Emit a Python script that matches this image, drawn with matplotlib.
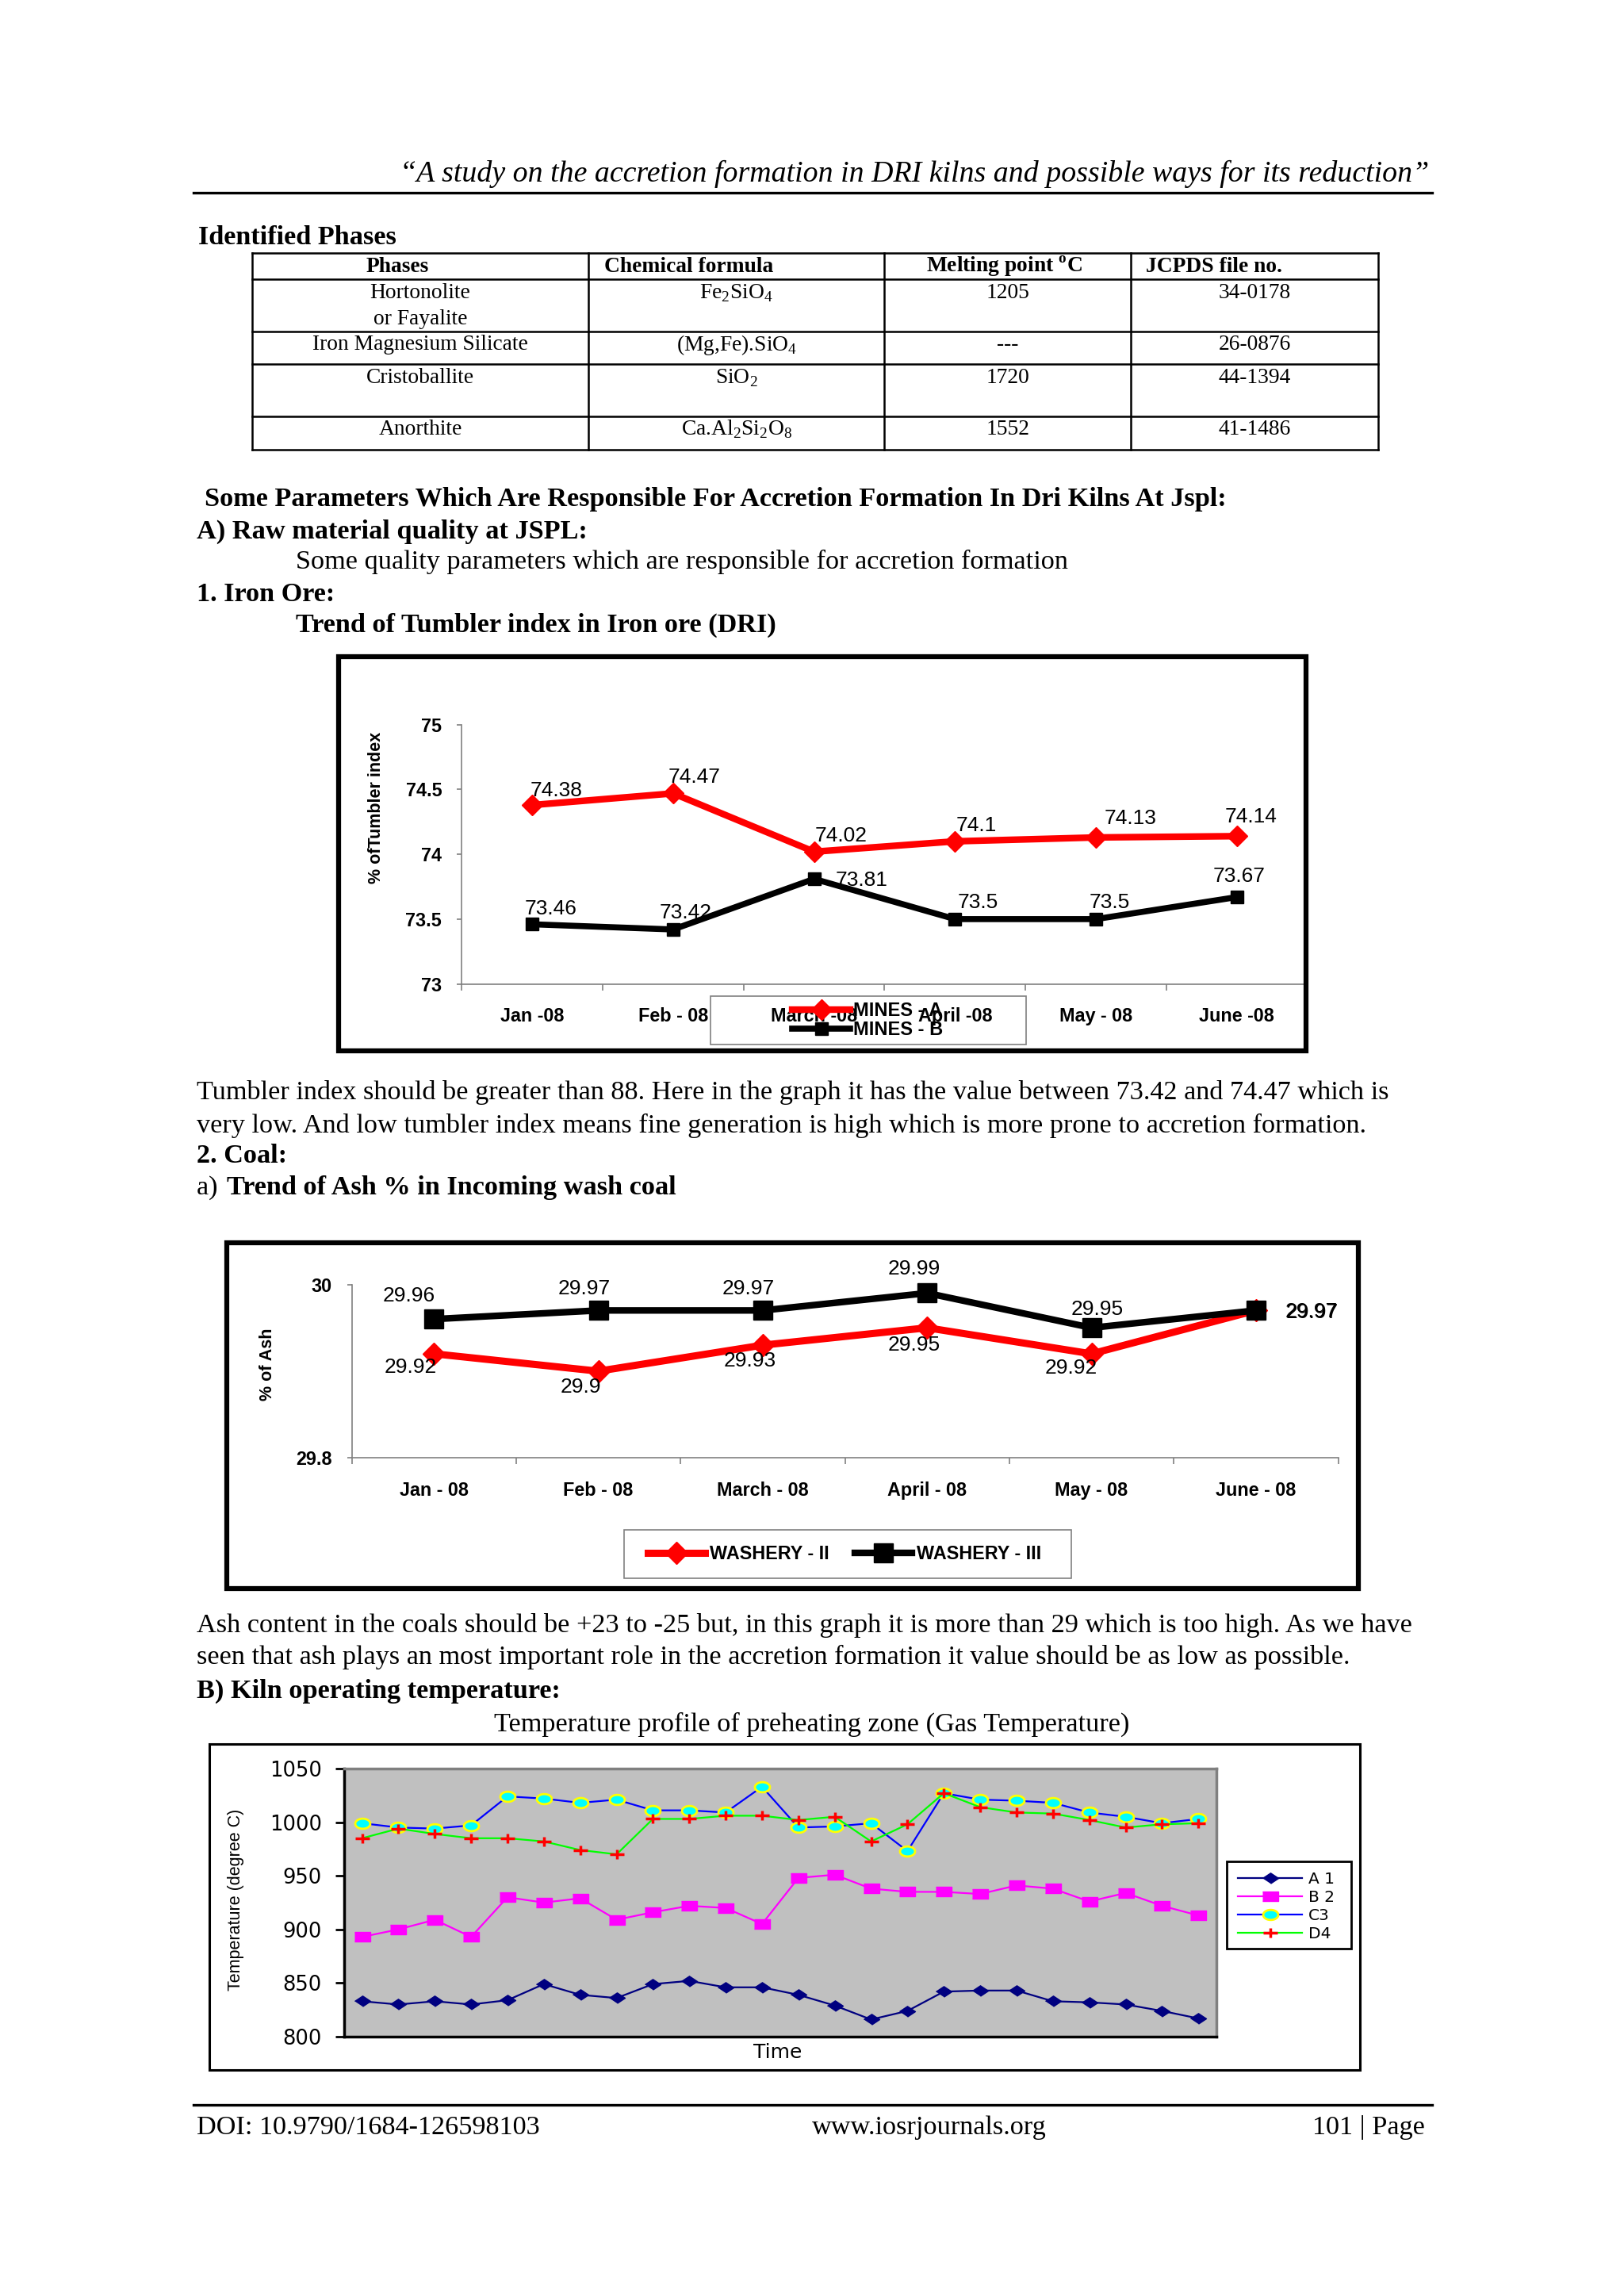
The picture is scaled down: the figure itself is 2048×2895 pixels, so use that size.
import numpy as np
import matplotlib
matplotlib.use("Agg")
import matplotlib.pyplot as plt
from matplotlib.patches import Rectangle
from matplotlib.lines import Line2D
from matplotlib.path import Path

# ---- data ----
table_phases = ["Hortonolite\nor Fayalite", "Iron Magnesium Silicate", "Cristoballite", "Anorthite"]
table_formula = [r"Fe$_\mathregular{2}$SiO$_\mathregular{4}$", r"(Mg,Fe).SiO$_\mathregular{4}$",
                 r"SiO$_\mathregular{2}$", r"Ca.Al$_\mathregular{2}$Si$_\mathregular{2}$O$_\mathregular{8}$"]
table_melting = ["1205", "---", "1720", "1552"]
table_jcpds = ["34-0178", "26-0876", "44-1394", "41-1486"]

months_ore = ["Jan -08", "Feb - 08", "March -08", "April -08", "May - 08", "June -08"]
mines_a = [74.38, 74.47, 74.02, 74.1, 74.13, 74.14]
mines_b = [73.46, 73.42, 73.81, 73.5, 73.5, 73.67]

months_coal = ["Jan - 08", "Feb - 08", "March - 08", "April - 08", "May - 08", "June - 08"]
washery_2 = [29.92, 29.9, 29.93, 29.95, 29.92, 29.97]
washery_3 = [29.96, 29.97, 29.97, 29.99, 29.95, 29.97]

temp_a1 = [833, 830, 833, 830, 834, 849, 839, 836, 849, 852, 846, 846,
           839, 829, 816, 824, 842, 843, 843, 833, 832, 830, 824, 817]
temp_b2 = [893, 900, 909, 893, 930, 925, 929, 909, 916, 922, 920, 905,
           948, 951, 938, 935, 935, 933, 941, 938, 926, 934, 922, 913]
temp_c3 = [999, 995, 994, 997, 1024, 1022, 1018, 1021, 1011, 1011, 1009, 1033,
           995, 996, 999, 973, 1027, 1021, 1020, 1018, 1009, 1005, 999, 1003]
temp_d4 = [985, 994, 989, 985, 985, 982, 974, 970, 1003, 1003, 1006, 1006,
           1002, 1005, 982, 998, 1027, 1014, 1009, 1008, 1002, 995, 998, 999]

# ---- page helpers (positions measured on a 1108 x 1567 grid) ----
PW, PH = 1108.0, 1567.0
SERIF = "Liberation Serif"
SANS = "Liberation Sans"
WIDE = "DejaVu Sans"
BODY = 24.7

plt.rcParams["mathtext.fontset"] = "custom"
plt.rcParams["mathtext.rm"] = SERIF

fig = plt.figure(figsize=(20.48, 28.95), dpi=100)


def fx(x):
    return x / PW


def fy(y):
    return 1 - y / PH


def box(x0, y0, x1, y1):
    return [fx(x0), fy(y1), (x1 - x0) / PW, (y1 - y0) / PH]


def page_text(x, y, s, size=BODY, weight="normal", style="normal", ha="left", family=SERIF):
    fig.text(fx(x), fy(y), s, fontsize=size, fontweight=weight, fontstyle=style,
             ha=ha, va="center", family=family)


def hline(x0, x1, y, lw=1.8, color="black"):
    fig.add_artist(Line2D([fx(x0), fx(x1)], [fy(y), fy(y)], transform=fig.transFigure, lw=lw, color=color))


def vline(x, y0, y1, lw=1.8, color="black"):
    fig.add_artist(Line2D([fx(x), fx(x)], [fy(y0), fy(y1)], transform=fig.transFigure, lw=lw, color=color))


def frame(x0, y0, x1, y1, lw, color="black"):
    fig.add_artist(Rectangle((fx(x0), fy(y1)), (x1 - x0) / PW, (y1 - y0) / PH, transform=fig.transFigure,
                             fill=False, ec=color, lw=lw))


# ---- header / footer ----
page_text(975, 119, "\u201cA study on the accretion formation in DRI kilns and possible ways for its reduction\u201d",
          size=27.3, style="italic", ha="right")
hline(132, 977, 131.7, lw=2.4)
hline(132, 977, 1436.7, lw=2.4)
page_text(134, 1452, "DOI: 10.9790/1684-126598103")
page_text(634, 1452, "www.iosrjournals.org", ha="center")
page_text(972, 1452, "101 | Page", ha="right")

# ---- table ----
page_text(135, 162, "Identified Phases", weight="bold")
cols = [172, 401.5, 603.5, 771.6, 940.5]
rows = [172.6, 190.5, 226, 248.4, 284, 306.7]
for c in cols:
    vline(c, rows[0], rows[-1])
for r in rows:
    hline(cols[0], cols[-1], r)
TS = 19.8
page_text(271, 182, "Phases", size=TS, weight="bold", ha="center")
page_text(412, 182, "Chemical formula", size=TS, weight="bold")
page_text(685, 182, r"Melting point $^\mathregular{o}$C", size=TS, weight="bold", ha="center")
page_text(782, 182, "JCPDS file no.", size=TS, weight="bold")
row_y = [200, 235.4, 258, 293]
for i in range(len(table_phases)):
    y = row_y[i]
    if "\n" in table_phases[i]:
        a, b = table_phases[i].split("\n")
        page_text(286.7, y, a, size=TS, ha="center")
        page_text(286.7, y + 18, b, size=TS, ha="center")
    else:
        page_text(286.7, y, table_phases[i], size=TS, ha="center")
    page_text(502.5, y, table_formula[i], size=TS, ha="center")
    page_text(687.5, y, table_melting[i], size=TS, ha="center")
    page_text(856, y, table_jcpds[i], size=TS, ha="center")

# ---- body text ----
page_text(139.6, 341, "Some Parameters Which Are Responsible For Accretion Formation In Dri Kilns At Jspl:", weight="bold")
page_text(134, 362.6, "A) Raw material quality at JSPL:", weight="bold")
page_text(201.6, 383.3, "Some quality parameters which are responsible for accretion formation")
page_text(134, 405.8, "1. Iron Ore:", weight="bold")
page_text(201.6, 426.6, "Trend of Tumbler index in Iron ore (DRI)", weight="bold")
page_text(134, 745.8, "Tumbler index should be greater than 88. Here in the graph it has the value between 73.42 and 74.47 which is")
page_text(134, 768.4, "very low. And low tumbler index means fine generation is high which is more prone to accretion formation.")
page_text(134, 789, "2. Coal:", weight="bold")
page_text(134, 810.6, "a) ")
page_text(155, 810.6, "Trend of Ash % in Incoming wash coal", weight="bold")
page_text(134, 1109.3, "Ash content in the coals should be +23 to -25 but, in this graph it is more than 29 which is too high. As we have")
page_text(134, 1131, "seen that ash plays an most important role in the accretion formation it value should be as low as possible.")
page_text(134, 1154.4, "B) Kiln operating temperature:", weight="bold")
page_text(554, 1177, "Temperature profile of preheating zone (Gas Temperature)", ha="center")


# ---- excel style category charts ----
def excel_axes(ax, labels, ylo, yhi, yticks, size=16.8, pad=20):
    ax.set_xlim(-0.5, len(labels) - 0.5)
    ax.set_ylim(ylo, yhi)
    ax.set_xticks(range(len(labels)))
    ax.set_xticklabels(labels, fontsize=size, fontweight="bold", family=SANS)
    ax.set_xticks([i - 0.5 for i in range(len(labels) + 1)], minor=True)
    ax.tick_params(axis="x", which="major", length=0, pad=pad)
    ax.tick_params(axis="x", which="minor", length=6, width=1.2, color="#808080", direction="out")
    ax.set_yticks(yticks)
    ax.set_yticklabels([f"{t:g}" for t in yticks], fontsize=size, fontweight="bold", family=SANS)
    ax.tick_params(axis="y", length=4, width=1.2, color="#808080", pad=14)
    for s in ("top", "right"):
        ax.spines[s].set_visible(False)
    for s in ("left", "bottom"):
        ax.spines[s].set_color("#808080")
        ax.spines[s].set_linewidth(1.2)
    ax.patch.set_alpha(0)


def point_labels(ax, vals, offsets):
    for i, v in enumerate(vals):
        dx, dy = offsets[i]
        ax.annotate(f"{v:g}", (i, v), xytext=(dx, dy), textcoords="offset points",
                    ha="center", va="center", fontsize=19, family=SANS, zorder=5)


# chart 1: tumbler index
frame(231, 448, 891, 717, lw=4.5)
ax1 = fig.add_axes(box(315, 494.6, 892, 671.5))
x1 = range(len(months_ore))
ax1.plot(x1, mines_a, color="#FF0000", lw=6, marker="D", ms=13, label="MINES - A", clip_on=False, zorder=3)
ax1.plot(x1, mines_b, color="black", lw=5.5, marker="s", ms=11, label="MINES - B", clip_on=False, zorder=3)
excel_axes(ax1, months_ore, 73, 75, [73, 73.5, 74, 74.5, 75], pad=21.5)
ax1.set_ylabel("% ofTumbler index", fontsize=15.5, fontweight="bold", family=SANS)
ax1.yaxis.label.set_verticalalignment("center")
ax1.yaxis.set_label_coords(-0.1012, 0.681)
point_labels(ax1, mines_a, [(21.7, 13.2), (19, 15), (24.5, 14.4), (19.5, 14), (31, 17), (12.6, 17.3)])
point_labels(ax1, mines_b, [(17, 13.7), (11.5, 15), (43.5, -1.4), (21, 15), (12, 15), (1.7, 19)])
frame(485, 680, 700, 713, lw=1.2, color="#808080")
h, l = ax1.get_legend_handles_labels()
fig.legend(h, l, loc="center left", bbox_to_anchor=(fx(540.6), fy(696.5)), frameon=False,
           prop=dict(family=SANS, weight="bold", size=17), handlelength=3.1, handletextpad=0.15,
           labelspacing=0.05, borderpad=0, borderaxespad=0)

# chart 2: ash %
frame(155, 848, 927, 1084, lw=4.5)
ax2 = fig.add_axes(box(240, 876.6, 913, 995))
x2 = range(len(months_coal))
ax2.plot(x2, washery_2, color="#FF0000", lw=6.5, marker="D", ms=14, label="WASHERY - II", clip_on=False, zorder=3)
ax2.plot(x2, washery_3, color="black", lw=6, marker="s", ms=17, label="WASHERY - III", clip_on=False, zorder=3)
excel_axes(ax2, months_coal, 29.8, 30, [29.8, 30], pad=21.5)
ax2.set_ylabel("% of Ash", fontsize=15.5, fontweight="bold", family=SANS)
ax2.yaxis.label.set_verticalalignment("center")
ax2.yaxis.set_label_coords(-0.0853, 0.5405)
point_labels(ax2, washery_3, [(-22.6, 21), (-12.6, 19.7), (-13.3, 19.7), (-12, 21.6), (5.3, 16.8), (50, -1.2)])
point_labels(ax2, washery_2, [(-21, -12), (-16, -14.4), (-12, -14.4), (-12, -15.6), (-18.6, -13.2), (51, -1.8)])
frame(426, 1044, 731, 1077, lw=1.2, color="#808080")
h, l = ax2.get_legend_handles_labels()
fig.legend(h, l, loc="center left", bbox_to_anchor=(fx(442), fy(1060.6)), frameon=False, ncol=2,
           prop=dict(family=SANS, weight="bold", size=16.8), handlelength=3.1, handletextpad=0.23,
           columnspacing=1.4, borderpad=0, borderaxespad=0)

# chart 3: preheating zone temperature (chart is stretched sideways on the page)
ang = np.linspace(0, 2 * np.pi, 40)
m_diamond = [(-1.5, 0), (0, 1), (1.5, 0), (0, -1)]
m_square = [(-1.5, -1), (1.5, -1), (1.5, 1), (-1.5, 1)]
m_ellipse = list(zip(1.5 * np.cos(ang), np.sin(ang)))
m_plus = Path([(-1.5, 0), (1.5, 0), (0, -1), (0, 1)], [Path.MOVETO, Path.LINETO, Path.MOVETO, Path.LINETO])

frame(143, 1190, 928, 1413, lw=2.2)
ax3 = fig.add_axes(box(234.6, 1207, 830, 1390))
ax3.set_facecolor("#C0C0C0")
t = range(len(temp_a1))
ax3.plot(t, temp_a1, color="#000080", lw=1.6, marker=m_diamond, ms=14.4, mfc="#000080", mec="#000080", label="A 1")
ax3.plot(t, temp_b2, color="#FF00FF", lw=1.6, marker=m_square, ms=13.7, mfc="#FF00FF", mec="#FF00FF", label="B 2")
ax3.plot(t, temp_c3, color="#0000FF", lw=1.6, marker=m_ellipse, ms=13.7, mfc="#00FFFF", mec="#FFFF00", mew=2,
         label="C3")
ax3.plot(t, temp_d4, color="#00FF00", lw=1.6, marker=m_plus, ms=12.5, mfc="none", mec="#FF0000", mew=2.5,
         label="D4")
ax3.set_xlim(-0.5, len(temp_a1) - 0.5)
ax3.set_ylim(800, 1050)
ax3.set_yticks([800, 850, 900, 950, 1000, 1050])
ax3.set_xticks([])
ax3.tick_params(axis="y", length=8, width=2, direction="out", pad=12, labelsize=18.5)
for lab in ax3.get_yticklabels():
    lab.set_family(WIDE)
for s in ("left", "bottom"):
    ax3.spines[s].set_color("black")
    ax3.spines[s].set_linewidth(2.5)
for s in ("top", "right"):
    ax3.spines[s].set_color("#808080")
    ax3.spines[s].set_linewidth(2.5)
ax3.set_ylabel("Temperature (degree C)", fontsize=15.5, family=SANS)
ax3.yaxis.label.set_verticalalignment("center")
ax3.yaxis.set_label_coords(-0.1236, 0.5115)
ax3.set_xlabel("Time", fontsize=18, family=WIDE)
ax3.xaxis.label.set_verticalalignment("center")
ax3.xaxis.set_label_coords(0.497, -0.058)
frame(837, 1270.6, 922, 1330, lw=2)
h, l = ax3.get_legend_handles_labels()
fig.legend(h, l, loc="center left", bbox_to_anchor=(fx(844.7), fy(1301.2)), frameon=False,
           prop=dict(family=WIDE, size=14.5), handlelength=4.0, handletextpad=0.4,
           labelspacing=0.2, borderpad=0, borderaxespad=0)

fig.savefig("out.png", dpi=100)
